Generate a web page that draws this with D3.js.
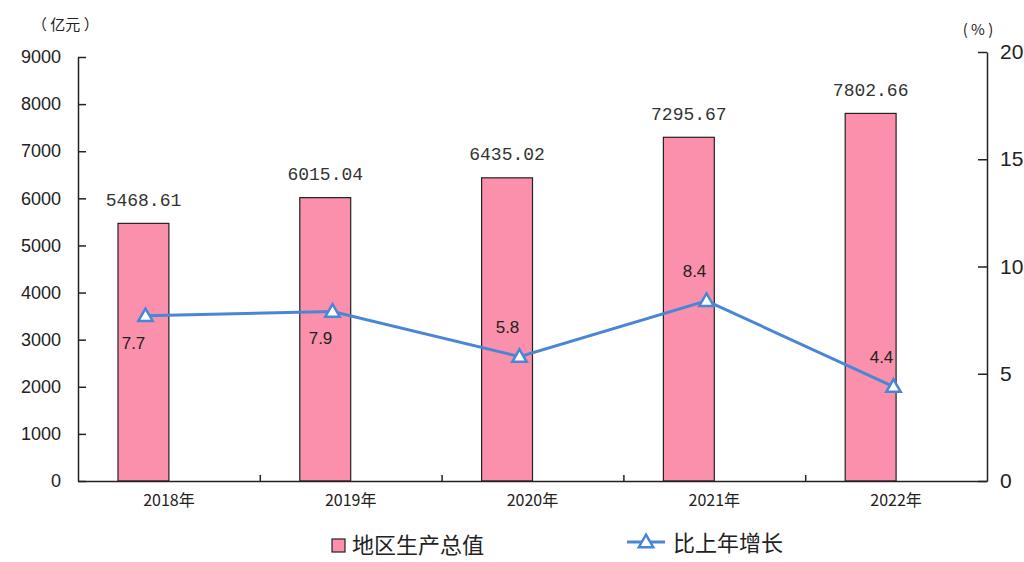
<!DOCTYPE html>
<html>
<head>
<meta charset="utf-8">
<script src="https://cdn.jsdelivr.net/npm/d3@7"></script>
<style>
  body { margin: 0; background: #fff; }
  svg text { fill: #222; }
</style>
</head>
<body>
<div id="chart"></div>
<script>
// data
const years = ['2018年', '2019年', '2020年', '2021年', '2022年'];
const gdp = [5468.61, 6015.04, 6435.02, 7295.67, 7802.66];
const growth = [7.7, 7.9, 5.8, 8.4, 4.4];
const growthLabelBelow = [true, true, false, false, false];
const leftTicks = [0, 1000, 2000, 3000, 4000, 5000, 6000, 7000, 8000, 9000];
const rightTicks = [0, 5, 10, 15, 20];
const barName = '地区生产总值';
const lineName = '比上年增长';

const width = 1024, height = 562;
const left = 78, right = 987, bottom = 481;
const barColor = '#fa90ab';
const lineColor = '#4a86d6';

const svg = d3.select('#chart').append('svg')
  .attr('width', width)
  .attr('height', height);

// scales
const xBand = d3.scaleBand().domain(years).range([left, right]);
const xLine = d3.scaleBand().domain(years).range([52, right]);
const yL = d3.scaleLinear().domain([0, 9000]).range([bottom, 57]);
const yR = d3.scaleLinear().domain([0, 20]).range([bottom, 52]);
const bw = xBand.bandwidth();
const barW = bw * 0.28;
const barOff = bw * 0.22;

// bars
svg.append('g').selectAll('rect')
  .data(gdp)
  .join('rect')
  .attr('x', (d, i) => xBand(years[i]) + barOff)
  .attr('y', d => yL(d))
  .attr('width', barW)
  .attr('height', d => bottom - yL(d))
  .attr('fill', barColor)
  .attr('stroke', '#222')
  .attr('stroke-width', 1.2);

// bar labels
svg.append('g').selectAll('text')
  .data(gdp)
  .join('text')
  .attr('x', (d, i) => xBand(years[i]) + barOff + barW / 2)
  .attr('y', d => yL(d) - 24)
  .attr('dy', '0.35em')
  .attr('text-anchor', 'middle')
  .style('font-family', '"Liberation Mono", monospace')
  .style('font-size', '18px')
  .style('fill', '#333')
  .text(d => d.toFixed(2));

// left axis
const axL = svg.append('g')
  .attr('transform', `translate(${left},0)`)
  .call(d3.axisLeft(yL).tickValues(leftTicks).tickFormat(d3.format('d'))
    .tickSizeInner(-8).tickSizeOuter(0).tickPadding(17));
axL.selectAll('text')
  .style('font-family', '"Liberation Sans", Arial, sans-serif')
  .style('font-size', '18px');

// right axis
const axR = svg.append('g')
  .attr('transform', `translate(${right},0)`)
  .call(d3.axisRight(yR).tickValues(rightTicks).tickSizeInner(-9).tickSizeOuter(0).tickPadding(13));
axR.selectAll('text')
  .style('font-family', '"Liberation Sans", Arial, sans-serif')
  .style('font-size', '21px');

// bottom axis: labels at band centres, ticks at band borders
const axB = svg.append('g')
  .attr('transform', `translate(0,${bottom})`)
  .call(d3.axisBottom(xBand).tickSize(0).tickPadding(14));
axB.selectAll('text')
  .style('font-family', '"Noto Sans CJK SC", sans-serif')
  .style('font-size', '16px');
const xBorder = d3.scaleLinear().domain([0, years.length]).range([left, right]);
svg.append('g')
  .attr('transform', `translate(0,${bottom})`)
  .call(d3.axisBottom(xBorder).tickValues(d3.range(1, years.length)).tickSizeInner(-6).tickSizeOuter(0).tickFormat(''))
  .select('.domain').remove();

svg.selectAll('.domain, .tick line')
  .attr('stroke', '#222')
  .attr('stroke-width', 1.5);

// unit labels
svg.append('text')
  .attr('x', 32).attr('y', 25).attr('dy', '0.35em')
  .style('font-family', '"Noto Sans CJK SC", sans-serif')
  .style('font-size', '15px')
  .text('（ 亿元 ）');
svg.append('text')
  .attr('x', 978).attr('y', 30).attr('dy', '0.35em')
  .attr('text-anchor', 'middle')
  .style('font-family', '"Noto Sans CJK SC", sans-serif')
  .style('font-size', '15px')
  .text('( % )');

// growth line
const cx = (d, i) => xLine(years[i]) + xLine.bandwidth() / 2;
const line = d3.line().x(cx).y(d => yR(d));
svg.append('path')
  .datum(growth)
  .attr('d', line)
  .attr('fill', 'none')
  .attr('stroke', lineColor)
  .attr('stroke-width', 3);

const tri = d3.symbol().type(d3.symbolTriangle).size(90);
svg.append('g').selectAll('path')
  .data(growth)
  .join('path')
  .attr('d', tri)
  .attr('transform', (d, i) => `translate(${cx(d, i)},${yR(d) + 1})`)
  .attr('fill', '#fff')
  .attr('stroke', lineColor)
  .attr('stroke-width', 2.5);

svg.append('g').selectAll('text')
  .data(growth)
  .join('text')
  .attr('x', (d, i) => cx(d, i) - 12)
  .attr('y', (d, i) => yR(d) + (growthLabelBelow[i] ? 27 : -30))
  .attr('dy', '0.35em')
  .attr('text-anchor', 'middle')
  .style('font-family', '"Liberation Sans", Arial, sans-serif')
  .style('font-size', '17px')
  .text(d => d.toFixed(1));

// legend
const lg = svg.append('g');
lg.append('rect')
  .attr('x', 332).attr('y', 539).attr('width', 13).attr('height', 13)
  .attr('fill', barColor).attr('stroke', '#222').attr('stroke-width', 1.2);
lg.append('text')
  .attr('x', 352).attr('y', 545).attr('dy', '0.35em')
  .style('font-family', '"Noto Sans CJK SC", sans-serif')
  .style('font-size', '22px')
  .text(barName);
lg.append('line')
  .attr('x1', 627).attr('x2', 665).attr('y1', 542).attr('y2', 542)
  .attr('stroke', lineColor).attr('stroke-width', 3);
lg.append('path')
  .attr('d', tri)
  .attr('transform', 'translate(646,543)')
  .attr('fill', '#fff')
  .attr('stroke', lineColor)
  .attr('stroke-width', 2.5);
lg.append('text')
  .attr('x', 673).attr('y', 543).attr('dy', '0.35em')
  .style('font-family', '"Noto Sans CJK SC", sans-serif')
  .style('font-size', '22px')
  .text(lineName);
</script>
</body>
</html>
